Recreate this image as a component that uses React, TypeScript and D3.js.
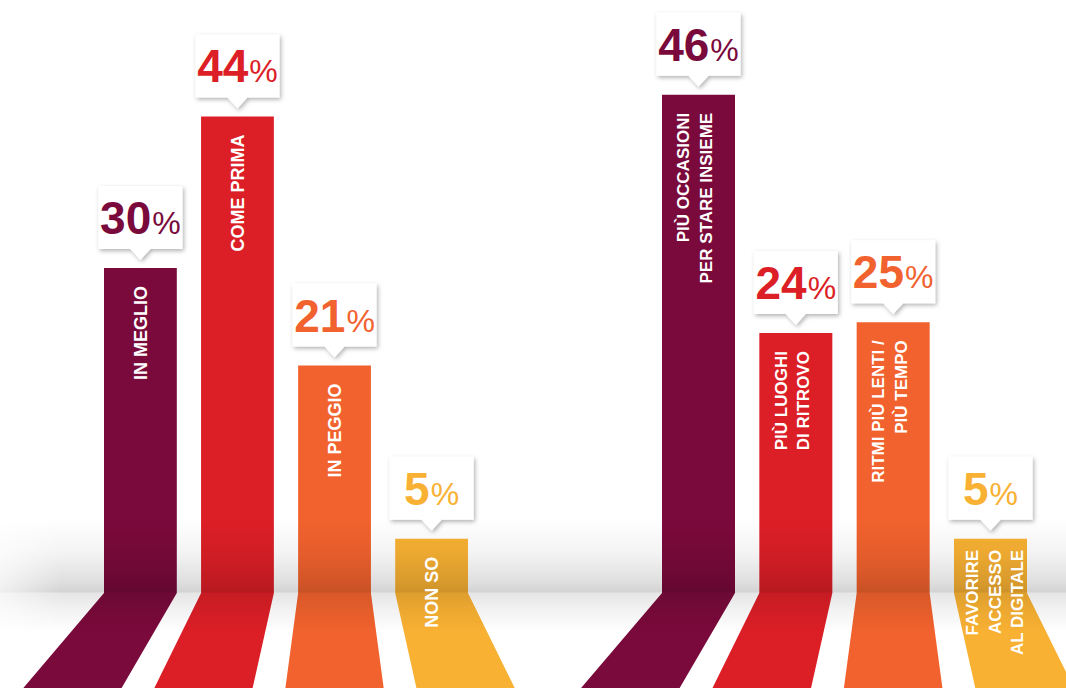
import React from 'react';
import * as d3 from 'd3';

const W = 1066;
const H = 688;
const FLOOR_Y = 593;
const PERSPECTIVE = 1.35;

// ---- data ----
const leftCategories = ['IN MEGLIO', 'COME PRIMA', 'IN PEGGIO', 'NON SO'];
const leftValues = [30, 44, 21, 5];

const rightCategories = ['occasioni', 'luoghi', 'ritmi', 'digitale'];
const rightLabels = [
  ['PIÙ OCCASIONI', 'PER STARE INSIEME'],
  ['PIÙ LUOGHI', 'DI RITROVO'],
  ['RITMI PIÙ LENTI /', 'PIÙ TEMPO'],
  ['FAVORIRE', 'ACCESSO', 'AL DIGITALE'],
];
const rightValues = [46, 24, 25, 5];

const colors = ['#7a0a3b', '#dc1f27', '#f1622e', '#f8b133'];

const FONT = "'Liberation Sans', Arial, Helvetica, sans-serif";

const y = d3.scaleLinear().domain([0, 50]).range([FLOOR_Y, FLOOR_Y - 541.5]);

type Group = {
  keys: string[];
  labels: string[][];
  values: number[];
  x: d3.ScaleBand<string>;
  labelSize: number;
};

const groups: Group[] = [
  {
    keys: leftCategories,
    labels: leftCategories.map((c) => [c]),
    values: leftValues,
    x: d3.scaleBand<string>().domain(leftCategories).range([104, 468]).paddingInner(0.25),
    labelSize: 18,
  },
  {
    keys: rightCategories,
    labels: rightLabels,
    values: rightValues,
    x: d3.scaleBand<string>().domain(rightCategories).range([662, 1027]).paddingInner(0.25),
    labelSize: 17,
  },
];

function barPath(x0: number, x1: number, top: number, vx: number) {
  const b0 = vx + (x0 - vx) * PERSPECTIVE;
  const b1 = vx + (x1 - vx) * PERSPECTIVE;
  const p = d3.path();
  p.moveTo(x0, top);
  p.lineTo(x1, top);
  p.lineTo(x1, FLOOR_Y);
  p.lineTo(b1, H);
  p.lineTo(b0, H);
  p.lineTo(x0, FLOOR_Y);
  p.closePath();
  return p.toString();
}

function calloutPath(cx: number, barTop: number) {
  const bw = 84;
  const bh = 63;
  const bottom = barTop - 19;
  const topY = bottom - bh;
  const tip = barTop - 8;
  const p = d3.path();
  p.moveTo(cx - bw / 2, topY);
  p.lineTo(cx + bw / 2, topY);
  p.lineTo(cx + bw / 2, bottom);
  p.lineTo(cx + 10, bottom);
  p.lineTo(cx, tip);
  p.lineTo(cx - 10, bottom);
  p.lineTo(cx - bw / 2, bottom);
  p.closePath();
  return p.toString();
}

export default function App() {
  return (
    <svg
      width={W}
      height={H}
      viewBox={`0 0 ${W} ${H}`}
      style={{ position: 'absolute', left: 0, top: 0, background: '#ffffff' }}
    >
      <defs>
        <linearGradient id="shade" gradientUnits="userSpaceOnUse" x1="0" y1="500" x2="0" y2="660">
          <stop offset={(520 - 500) / 160} stopColor="#000" stopOpacity={0} />
          <stop offset={(555 - 500) / 160} stopColor="#000" stopOpacity={0.05} />
          <stop offset={(580 - 500) / 160} stopColor="#000" stopOpacity={0.12} />
          <stop offset={(592 - 500) / 160} stopColor="#000" stopOpacity={0.17} />
          <stop offset={(593 - 500) / 160} stopColor="#000" stopOpacity={0.1} />
          <stop offset={(610 - 500) / 160} stopColor="#000" stopOpacity={0.05} />
          <stop offset={(632 - 500) / 160} stopColor="#000" stopOpacity={0} />
        </linearGradient>
        <linearGradient id="fadeX" gradientUnits="userSpaceOnUse" x1="0" y1="0" x2="60" y2="0">
          <stop offset="0" stopColor="#fff" stopOpacity={0.35} />
          <stop offset="1" stopColor="#fff" stopOpacity={1} />
        </linearGradient>
        <mask id="fadeMask" maskUnits="userSpaceOnUse" x="0" y="0" width={W} height={H}>
          <rect x={0} y={0} width={W} height={H} fill="url(#fadeX)" />
        </mask>
        <filter id="shadow" x="-20%" y="-20%" width="150%" height="160%">
          <feDropShadow dx="1.5" dy="2" stdDeviation="2" floodColor="#000" floodOpacity="0.3" />
        </filter>
      </defs>

      {/* bars with floor projection */}
      {groups.map((g, gi) => {
        const bw = g.x.bandwidth();
        const vx = (g.x(g.keys[2]) as number) + bw / 2;
        return (
          <g key={`bars-${gi}`}>
            {g.keys.map((k, i) => {
              const x0 = g.x(k) as number;
              return (
                <path key={k} d={barPath(x0, x0 + bw, y(g.values[i]), vx)} fill={colors[i]} />
              );
            })}
          </g>
        );
      })}

      {/* wall / floor shading */}
      <rect x={0} y={500} width={W} height={160} fill="url(#shade)" mask="url(#fadeMask)" />

      {/* bar labels */}
      {groups.map((g, gi) => {
        const bw = g.x.bandwidth();
        const fs = g.labelSize;
        const capH = fs * 0.716;
        const lineGap = 22.5;
        return (
          <g key={`labels-${gi}`}>
            {g.keys.map((k, i) => {
              const cx = (g.x(k) as number) + bw / 2;
              const top = y(g.values[i]);
              const lines = g.labels[i];
              const n = lines.length;
              const endY = top + (n === 3 ? 11 : 18);
              const shift = n === 3 ? 4 : n === 2 ? -4 : 0;
              return lines.map((line, li) => {
                const vc = cx + shift + (li - (n - 1) / 2) * lineGap;
                const bx = vc + capH / 2;
                return (
                  <text
                    key={`${k}-${li}`}
                    transform={`translate(${bx},${endY}) rotate(-90)`}
                    textAnchor="end"
                    fill="#ffffff"
                    fontFamily={FONT}
                    fontWeight="bold"
                    fontSize={fs}
                  >
                    {line}
                  </text>
                );
              });
            })}
          </g>
        );
      })}

      {/* value callouts */}
      {groups.map((g, gi) => {
        const bw = g.x.bandwidth();
        return (
          <g key={`callouts-${gi}`}>
            {g.keys.map((k, i) => {
              const cx = (g.x(k) as number) + bw / 2;
              const top = y(g.values[i]);
              return (
                <g key={k}>
                  <path d={calloutPath(cx, top)} fill="#ffffff" filter="url(#shadow)" />
                  <text
                    x={cx}
                    y={top - 19 - 15}
                    textAnchor="middle"
                    fill={colors[i]}
                    fontFamily={FONT}
                  >
                    <tspan fontWeight="bold" fontSize={46}>
                      {g.values[i]}
                    </tspan>
                    <tspan fontSize={32} dx={1}>
                      %
                    </tspan>
                  </text>
                </g>
              );
            })}
          </g>
        );
      })}
    </svg>
  );
}
